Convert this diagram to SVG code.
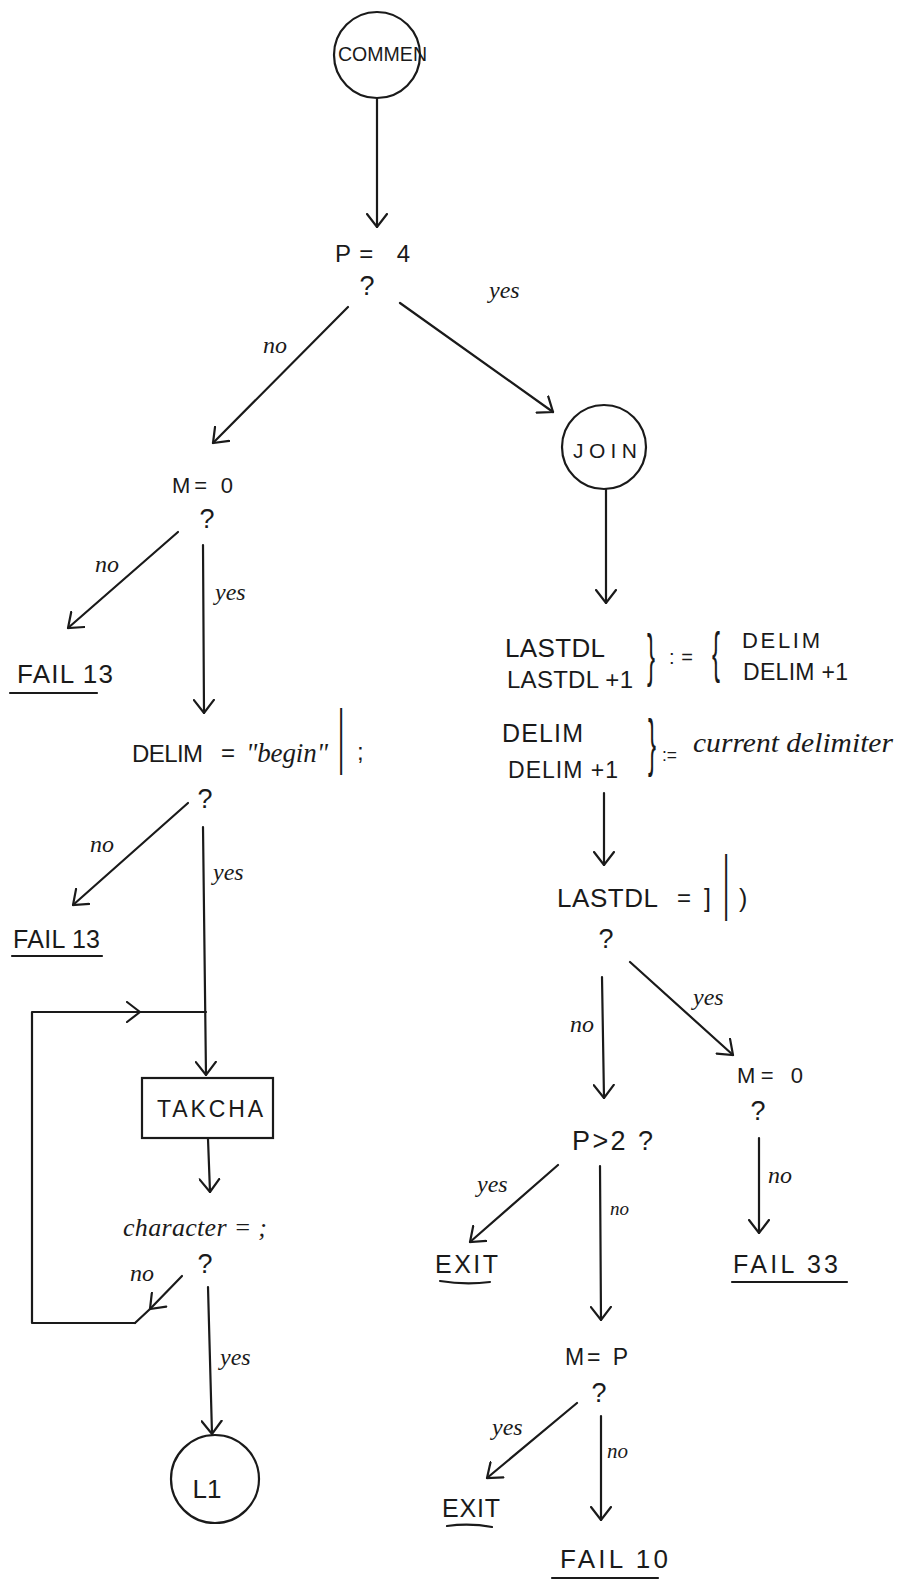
<svg xmlns="http://www.w3.org/2000/svg" width="902" height="1582" viewBox="0 0 902 1582">
<defs>
<style>
.ln{stroke:#1a1a1a;stroke-width:2.2;fill:none;stroke-linecap:round;stroke-linejoin:round}
.arr{marker-end:url(#ah)}
.shape{stroke:#1a1a1a;stroke-width:2.2;fill:#fff}
.cap{font-family:"Liberation Sans",Arial,sans-serif;fill:#1a1a1a}
.scr{font-family:"Liberation Serif","Times New Roman",serif;font-style:italic;fill:#1a1a1a}
.q{font-family:"Liberation Sans",Arial,sans-serif;fill:#1a1a1a;font-size:27px;text-anchor:middle}
.lbl{font-family:"Liberation Serif","Times New Roman",serif;font-style:italic;fill:#1a1a1a;font-size:24px}
</style>
<marker id="ah" viewBox="0 0 15 22" refX="14" refY="11" markerWidth="15" markerHeight="22" markerUnits="userSpaceOnUse" orient="auto">
<path d="M1,1 L14,11 L1,21" fill="none" stroke="#1a1a1a" stroke-width="2.2" stroke-linecap="round"/>
</marker>
</defs>
<rect width="902" height="1582" fill="#fff"/>

<g id="connectors">
<line class="ln arr" x1="377" y1="98" x2="377" y2="227"/>
<line class="ln arr" x1="348" y1="307" x2="213" y2="443"/>
<line class="ln arr" x1="400" y1="303" x2="553" y2="412"/>
<line class="ln arr" x1="178" y1="532" x2="68" y2="628"/>
<line class="ln arr" x1="203" y1="545" x2="204" y2="713"/>
<line class="ln arr" x1="188" y1="803" x2="73" y2="905"/>
<line class="ln arr" x1="203" y1="827" x2="206" y2="1075"/>
<polyline class="ln" points="135,1323 32,1323 32,1012 206,1012"/>
<line class="ln arr" x1="110" y1="1012" x2="140" y2="1012"/>
<line class="ln arr" x1="208" y1="1139" x2="210" y2="1192"/>
<line class="ln arr" x1="182" y1="1276" x2="150" y2="1309"/>
<line class="ln" x1="150" y1="1309" x2="135" y2="1323"/>
<line class="ln arr" x1="208" y1="1287" x2="212" y2="1434"/>
<line class="ln arr" x1="606" y1="489" x2="606" y2="603"/>
<line class="ln arr" x1="604" y1="793" x2="604" y2="865"/>
<line class="ln arr" x1="602" y1="977" x2="604" y2="1098"/>
<line class="ln arr" x1="630" y1="962" x2="733" y2="1055"/>
<line class="ln arr" x1="558" y1="1165" x2="470" y2="1242"/>
<line class="ln arr" x1="600" y1="1166" x2="601" y2="1320"/>
<line class="ln arr" x1="759" y1="1138" x2="759" y2="1233"/>
<line class="ln arr" x1="577" y1="1403" x2="487" y2="1478"/>
<line class="ln arr" x1="601" y1="1416" x2="601" y2="1520"/>
</g>

<g id="labels">
<text class="lbl" x="263" y="353">no</text>
<text class="lbl" x="489" y="298">yes</text>
<text class="lbl" x="95" y="572">no</text>
<text class="lbl" x="215" y="600">yes</text>
<text class="lbl" x="90" y="852">no</text>
<text class="lbl" x="213" y="880">yes</text>
<text class="lbl" x="130" y="1281">no</text>
<text class="lbl" x="220" y="1365">yes</text>
<text class="lbl" x="570" y="1032">no</text>
<text class="lbl" x="693" y="1005">yes</text>
<text class="lbl" x="477" y="1192">yes</text>
<text class="lbl" x="610" y="1215" style="font-size:19px">no</text>
<text class="lbl" x="768" y="1183">no</text>
<text class="lbl" x="492" y="1435">yes</text>
<text class="lbl" x="607" y="1458" style="font-size:21px">no</text>
</g>

<g id="commen">
<circle class="shape" cx="377" cy="55" r="43"/>
<text class="cap" x="338" y="61" font-size="20" textLength="89" lengthAdjust="spacingAndGlyphs">COMMEN</text>
</g>

<g id="p-eq-4">
<text class="cap" x="335" y="262" font-size="24" textLength="75" lengthAdjust="spacing">P= 4</text>
<text class="q" x="367" y="295">?</text>
</g>

<g id="join">
<circle class="shape" cx="604" cy="447" r="42"/>
<text class="cap" x="573" y="458" font-size="21" textLength="64" lengthAdjust="spacing">JOIN</text>
</g>

<g id="m-eq-0-left">
<text class="cap" x="172" y="493" font-size="22" textLength="61" lengthAdjust="spacing">M= 0</text>
<text class="q" x="207" y="528">?</text>
</g>

<g id="fail13-a">
<text class="cap" x="17" y="683" font-size="26" textLength="96" lengthAdjust="spacing">FAIL 13</text>
<line class="ln" x1="10" y1="693" x2="97" y2="693"/>
</g>

<g id="delim-begin">
<text class="cap" x="132" y="762" font-size="24" textLength="71" lengthAdjust="spacing">DELIM</text>
<text class="cap" x="221" y="761" font-size="24">=</text>
<text class="scr" x="246" y="762" font-size="27" textLength="82" lengthAdjust="spacing">"begin"</text>
<text class="cap" transform="translate(338,760) scale(1,3)" font-size="24">|</text>
<text class="cap" x="357" y="760" font-size="24">;</text>
<text class="q" x="205" y="808">?</text>
</g>

<g id="fail13-b">
<text class="cap" x="13" y="948" font-size="25" textLength="87" lengthAdjust="spacing">FAIL 13</text>
<line class="ln" x1="12" y1="956" x2="102" y2="956"/>
</g>

<g id="takcha">
<rect class="shape" x="142" y="1078" width="131" height="60"/>
<text class="cap" x="157" y="1117" font-size="23" textLength="106" lengthAdjust="spacing">TAKCHA</text>
</g>

<g id="character">
<text class="scr" x="123" y="1236" font-size="26" textLength="144" lengthAdjust="spacing">character = ;</text>
<text class="q" x="205" y="1273">?</text>
</g>

<g id="l1">
<circle class="shape" cx="215" cy="1479" r="44"/>
<text class="cap" x="207" y="1498" font-size="26" text-anchor="middle">L1</text>
</g>

<g id="assign-lastdl">
<text class="cap" x="505" y="657" font-size="26" textLength="100" lengthAdjust="spacing">LASTDL</text>
<text class="cap" x="507" y="688" font-size="24" textLength="126" lengthAdjust="spacing">LASTDL +1</text>
<text class="cap" transform="translate(647,675) scale(1,2.4)" font-size="24">}</text>
<text class="cap" x="669" y="664" font-size="20" textLength="24" lengthAdjust="spacing">:=</text>
<text class="cap" transform="translate(712,671) scale(1,2.3)" font-size="24">{</text>
<text class="cap" x="742" y="648" font-size="22" textLength="78" lengthAdjust="spacing">DELIM</text>
<text class="cap" x="743" y="680" font-size="23" textLength="105" lengthAdjust="spacing">DELIM +1</text>
</g>

<g id="assign-delim">
<text class="cap" x="502" y="742" font-size="25" textLength="81" lengthAdjust="spacing">DELIM</text>
<text class="cap" x="508" y="778" font-size="23" textLength="110" lengthAdjust="spacing">DELIM +1</text>
<text class="cap" transform="translate(648,764) scale(1,2.6)" font-size="24">}</text>
<text class="cap" x="662" y="761" font-size="19" textLength="15" lengthAdjust="spacingAndGlyphs">:=</text>
<text class="scr" x="693" y="752" font-size="27" textLength="200" lengthAdjust="spacingAndGlyphs">current delimiter</text>
</g>

<g id="lastdl-test">
<text class="cap" x="557" y="907" font-size="26" textLength="101" lengthAdjust="spacing">LASTDL</text>
<text class="cap" x="677" y="906" font-size="24">=</text>
<text class="cap" x="704" y="907" font-size="25">]</text>
<text class="cap" transform="translate(723,906) scale(1,3)" font-size="24">|</text>
<text class="cap" x="739" y="907" font-size="25">)</text>
<text class="q" x="606" y="948">?</text>
</g>

<g id="m-eq-0-right">
<text class="cap" x="737" y="1083" font-size="22" textLength="66" lengthAdjust="spacing">M= 0</text>
<text class="q" x="758" y="1120">?</text>
</g>

<g id="p-gt-2">
<text class="cap" x="572" y="1150" font-size="27" textLength="81" lengthAdjust="spacing">P&gt;2 ?</text>
</g>

<g id="exit-a">
<text class="cap" x="435" y="1273" font-size="25" textLength="63" lengthAdjust="spacing">EXIT</text>
<path class="ln" d="M440,1281 Q465,1285 490,1282"/>
</g>

<g id="fail33">
<text class="cap" x="733" y="1273" font-size="25" textLength="105" lengthAdjust="spacing">FAIL 33</text>
<line class="ln" x1="732" y1="1282" x2="847" y2="1282"/>
</g>

<g id="m-eq-p">
<text class="cap" x="565" y="1365" font-size="23" textLength="63" lengthAdjust="spacing">M= P</text>
<text class="q" x="599" y="1402">?</text>
</g>

<g id="exit-b">
<text class="cap" x="442" y="1517" font-size="25" textLength="58" lengthAdjust="spacing">EXIT</text>
<path class="ln" d="M447,1526 Q470,1523 492,1527"/>
</g>

<g id="fail10">
<text class="cap" x="560" y="1568" font-size="26" textLength="108" lengthAdjust="spacing">FAIL 10</text>
<line class="ln" x1="552" y1="1578" x2="658" y2="1578"/>
</g>
</svg>
